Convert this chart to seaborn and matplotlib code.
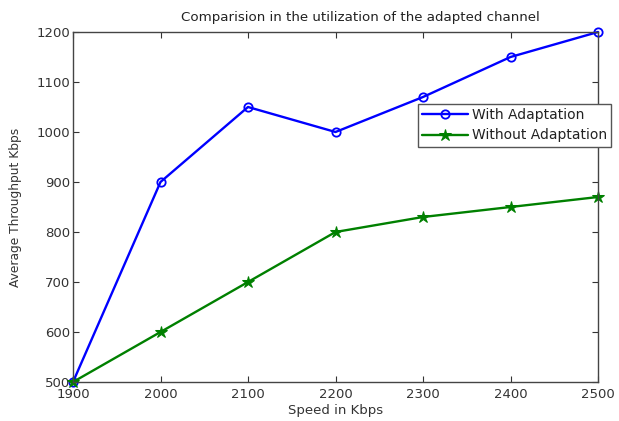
import matplotlib
matplotlib.use("Agg")
import matplotlib.pyplot as plt
import seaborn as sns
import pandas as pd

speed = [1900, 2000, 2100, 2200, 2300, 2400, 2500]
with_adapt = [500, 900, 1050, 1000, 1070, 1150, 1200]
without_adapt = [500, 600, 700, 800, 830, 850, 870]
xticks = [1900, 2000, 2100, 2200, 2300, 2400, 2500]
yticks = [500, 600, 700, 800, 900, 1000, 1100, 1200]

sns.set_style("white")
plt.rcParams['font.family'] = ['DejaVu Sans']

fig = plt.figure(figsize=(6.19, 4.21), dpi=100)
ax = fig.add_axes([73/619, 1-382/421, (598-73)/619, (382-32)/421])

df = pd.DataFrame({"speed": speed, "with": with_adapt, "without": without_adapt})
sns.lineplot(data=df, x="speed", y="with", ax=ax, color="#0000ff", marker="o",
             markersize=6, markerfacecolor="none", markeredgecolor="#0000ff",
             markeredgewidth=1.3, linewidth=1.7, label="With Adaptation", clip_on=False)
sns.lineplot(data=df, x="speed", y="without", ax=ax, color="#008000", marker="*",
             markersize=9, markerfacecolor="#008000", markeredgecolor="#008000",
             linewidth=1.7, label="Without Adaptation", clip_on=False)

ax.set_xlim(1900, 2500)
ax.set_ylim(500, 1200)
ax.set_xticks(xticks)
ax.set_yticks(yticks)
ax.tick_params(direction="in", length=4, width=0.8, labelsize=9.5, colors="#333333",
               top=True, right=True, bottom=True, left=True, pad=2)
ax.tick_params(axis="x", pad=4.5)
for s in ax.spines.values():
    s.set_color("#444444")
    s.set_linewidth(1.0)
ax.set_xlabel("Speed in Kbps", fontsize=9.5, color="#333333")
ax.xaxis.set_label_coords(0.5, -(404-382)/350)
ax.set_ylabel("Average Throughput Kbps", fontsize=8.8, color="#333333")
ax.yaxis.set_label_coords((22-73)/525, 0.5)
ax.set_title("Comparision in the utilization of the adapted channel", fontsize=9.6,
             pad=8, color="#222222", x=(360-73)/525)

leg = ax.legend(loc="upper left", bbox_to_anchor=(418/619, 1-104/421),
                bbox_transform=fig.transFigure, fontsize=10, frameon=True,
                fancybox=False, edgecolor="#555555", framealpha=1,
                handlelength=3.3, borderpad=0.3, labelspacing=0.45, handletextpad=0.3,
                borderaxespad=0)
leg.get_frame().set_linewidth(1.0)
for t in leg.get_texts():
    t.set_color("#222222")

fig.savefig("out.png", dpi=100)
